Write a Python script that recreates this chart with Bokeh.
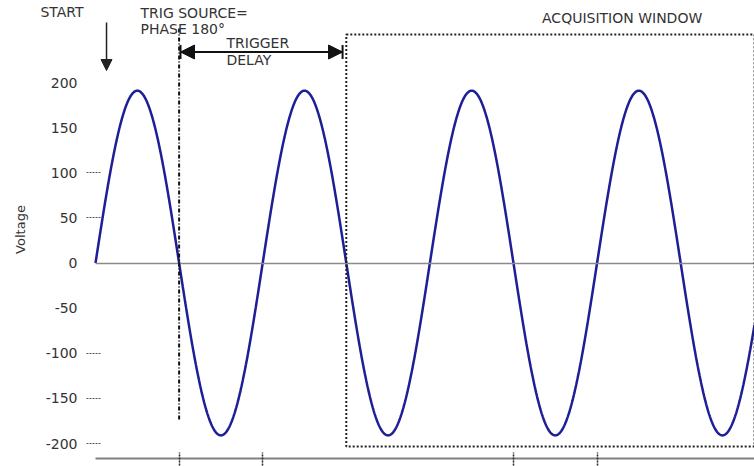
import numpy as np
from bokeh.plotting import figure
from bokeh.models import (Range1d, FixedTicker, Label, Arrow, NormalHead,
                          TeeHead, BoxAnnotation, LinearAxis)
from bokeh.embed import file_html
from bokeh.resources import INLINE

# ---- data ----
AMPLITUDE_V = 191            # peak voltage of the trace
PERIOD_DEG = 360             # one cycle in degrees of phase
PHASE_END_DEG = 1419         # phase at the right edge of the plot
Y_TICKS = [-200, -150, -100, -50, 0, 50, 100, 150, 200]
Y_DASH_TICKS = [100, 50, -100, -150, -200]
X_MARKS_DEG = [180, 360, 900, 1080]   # marks under the time axis
TRIGGER_PHASE_DEG = 180
WINDOW_START_DEG = 540

phase = np.arange(0, PHASE_END_DEG + 1, 1.0)
voltage = AMPLITUDE_V * np.sin(2 * np.pi * phase / PERIOD_DEG)

FONT = "DejaVu Sans"
TXT = "#333333"
INK = "#111111"

p = figure(width=754, height=466, output_backend="svg", toolbar_location=None,
           x_range=Range1d(-204.6, PHASE_END_DEG), y_range=Range1d(-216.6, 290.9),
           min_border_left=0, min_border_right=0, min_border_top=0,
           min_border_bottom=8)
p.outline_line_color = None
p.xgrid.visible = False
p.ygrid.visible = False
p.background_fill_color = "white"

# y axis, drawn at phase 0
ya = p.yaxis[0]
ya.fixed_location = 0
ya.ticker = FixedTicker(ticks=Y_TICKS, minor_ticks=Y_DASH_TICKS)
ya.major_label_overrides = {v: str(v) for v in Y_TICKS}
ya.axis_line_color = None
ya.major_tick_line_color = None
ya.major_tick_out = 9
ya.major_tick_in = 0
ya.minor_tick_out = 9
ya.minor_tick_in = 5
ya.minor_tick_line_color = "#555555"
ya.minor_tick_line_dash = "2 1"
ya.major_label_standoff = 9
ya.major_label_text_font = FONT
ya.major_label_text_font_size = "14px"
ya.major_label_text_color = TXT
ya.axis_label = "Voltage"
ya.axis_label_text_font = FONT
ya.axis_label_text_font_size = "13px"
ya.axis_label_text_font_style = "normal"
ya.axis_label_text_color = TXT
ya.axis_label_standoff = 15

# x axis (line and marks only)
xa = p.xaxis[0]
xa.bounds = (0, PHASE_END_DEG)
xa.ticker = FixedTicker(ticks=X_MARKS_DEG, minor_ticks=[])
xa.axis_line_color = "#808080"
xa.axis_line_width = 2
xa.major_tick_line_color = "#222222"
xa.major_tick_line_dash = "2 1"
xa.major_tick_line_width = 1.5
xa.major_tick_in = 6
xa.major_tick_out = 7
xa.major_label_text_font_size = "1px"
xa.major_label_text_color = None
xa.major_label_standoff = 0
xa.minor_tick_line_color = None

# zero line: a bare axis line fixed at 0 V
zero_axis = LinearAxis(fixed_location=0, bounds=(0, PHASE_END_DEG),
                       ticker=FixedTicker(ticks=[], minor_ticks=[]),
                       axis_line_color="#8a8a8a", axis_line_width=1.5,
                       major_tick_line_color=None, minor_tick_line_color=None,
                       major_label_text_font_size="1px",
                       major_label_text_color=None)
p.add_layout(zero_axis, "below")

# sine trace
p.line(phase, voltage, line_color="#1e1e96", line_width=2.5)

# acquisition window (dotted box)
p.add_layout(BoxAnnotation(left=WINDOW_START_DEG, top=253.2, bottom=-203.3,
                           fill_color=None, fill_alpha=0,
                           line_color="#222222", line_alpha=1.0,
                           line_width=2, line_dash="2 2"))

# trigger source line
p.add_layout(Arrow(x_start=TRIGGER_PHASE_DEG, y_start=260, x_end=TRIGGER_PHASE_DEG,
                   y_end=-175.6, start=None, end=None, line_color=INK,
                   line_width=2, line_dash="4 2 1 2"))

# trigger delay double arrow
p.add_layout(Arrow(x_start=TRIGGER_PHASE_DEG + 3, y_start=233.8,
                   x_end=WINDOW_START_DEG - 8, y_end=233.8,
                   start=TeeHead(size=14, line_width=2, line_color=INK),
                   end=TeeHead(size=14, line_width=2, line_color=INK),
                   line_color=INK, line_width=2))
p.add_layout(Arrow(x_start=TRIGGER_PHASE_DEG + 3, y_start=233.8,
                   x_end=WINDOW_START_DEG - 8, y_end=233.8,
                   start=NormalHead(size=14, fill_color=INK, line_color=INK),
                   end=NormalHead(size=14, fill_color=INK, line_color=INK),
                   line_color=INK, line_width=2))

# start arrow
p.add_layout(Arrow(x_start=23.7, y_start=266.5, x_end=23.7, y_end=213.3,
                   end=NormalHead(size=11, fill_color="#222222",
                                  line_color="#222222"),
                   line_color="#222222", line_width=1.5))


def lab(x, y, text, align="left"):
    p.add_layout(Label(x=x, y=y, text=text, text_font=FONT,
                       text_font_size="14px", text_color=TXT,
                       text_align=align, text_baseline="middle"))


lab(-72.2, 278.1, "START", "center")
lab(96.9, 277.0, "TRIG SOURCE=")
lab(96.9, 259.8, "PHASE 180°")
lab(282, 244.3, "TRIGGER")
lab(282, 225.0, "DELAY")
lab(1134, 271.5, "ACQUISITION WINDOW", "center")

open("out.html", "w").write(file_html(p, INLINE))
